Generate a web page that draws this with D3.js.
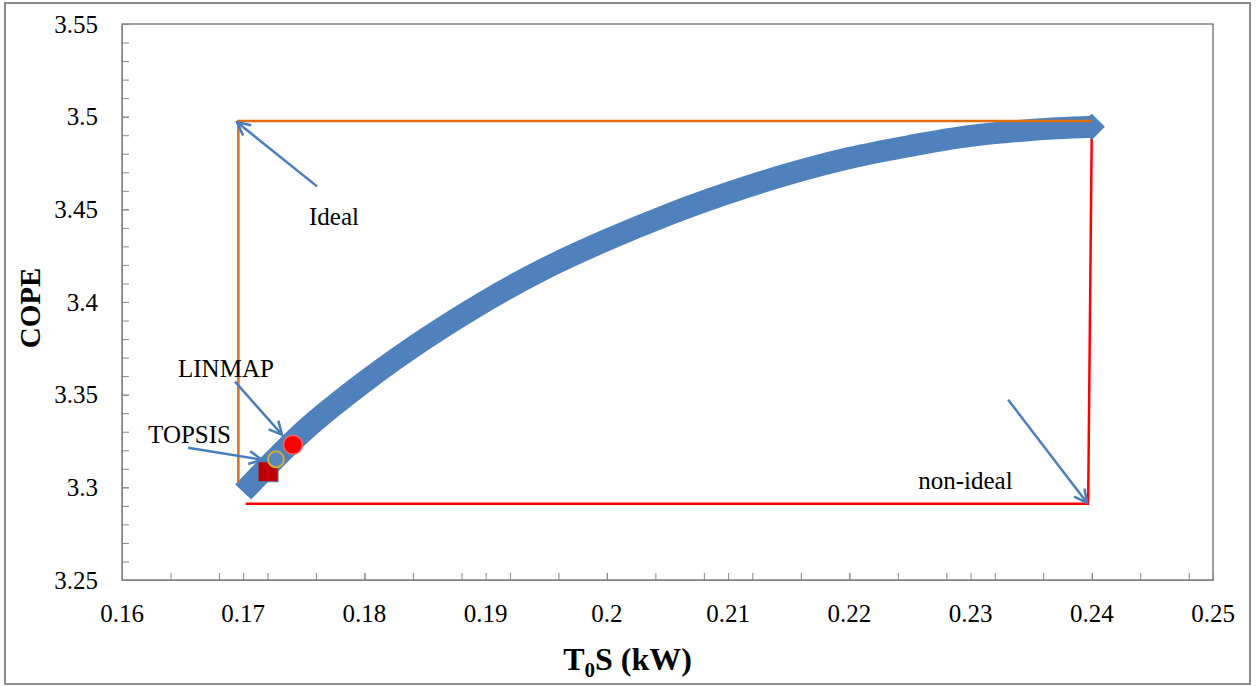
<!DOCTYPE html>
<html>
<head>
<meta charset="utf-8">
<script src="https://cdn.jsdelivr.net/npm/d3@7"></script>
<style>
  body { margin: 0; background: #fff; }
</style>
</head>
<body>
<div id="chart"></div>
<script>
const SERIF = "'Liberation Serif', 'Times New Roman', serif";

// Pareto front (T0S in kW, COPE)
const frontX = [0.170, 0.175, 0.180, 0.185, 0.190, 0.195, 0.200, 0.205,
  0.210, 0.215, 0.220, 0.225, 0.230, 0.235, 0.240];
const frontY = [3.2975, 3.3304, 3.3569, 3.3801, 3.4006, 3.4184, 3.4335, 3.4470,
  3.4588, 3.4691, 3.4777, 3.4842, 3.4896, 3.4928, 3.4945];

// ideal / non-ideal frame lines
const idealX = [0.1696, 0.1696, 0.2400];
const idealY = [3.3025, 3.4976, 3.4976];
const nonIdealX = [0.2400, 0.2397, 0.1702];
const nonIdealY = [3.4935, 3.2911, 3.2911];

// decision points
const topsisPt = [0.17205, 3.3084];
const finalPt = [0.1727, 3.3151];
const linmapPt = [0.1741, 3.3230];

// annotations: label, label anchor, arrow start, arrow tip
const notes = [
  { label: "Ideal", at: [0.17543, 3.4414], from: [0.17609, 3.4624], to: [0.16949, 3.4970] },
  { label: "non-ideal", at: [0.22568, 3.2992], from: [0.23310, 3.3473], to: [0.23962, 3.2916] },
  { label: "LINMAP", at: [0.16462, 3.3597], from: [0.16932, 3.3570], to: [0.17320, 3.3284] },
  { label: "TOPSIS", at: [0.16215, 3.3241], from: [0.16545, 3.3214], to: [0.17155, 3.3149] }
];

const xTicks = [0.16, 0.17, 0.18, 0.19, 0.2, 0.21, 0.22, 0.23, 0.24, 0.25];
const yTicks = [3.25, 3.3, 3.35, 3.4, 3.45, 3.5, 3.55];

const W = 1256, H = 686;
const plot = { left: 122, right: 1213, top: 24, bottom: 580 };

const svg = d3.select("#chart").append("svg")
  .attr("width", W)
  .attr("height", H);

svg.append("rect").attr("width", W).attr("height", H).attr("fill", "#fff");

// outer chart frame
svg.append("rect")
  .attr("x", 5).attr("y", 3)
  .attr("width", 1245).attr("height", 681)
  .attr("fill", "none")
  .attr("stroke", "#8c8c8c")
  .attr("stroke-width", 2);

const x = d3.scaleLinear().domain([0.16, 0.25]).range([plot.left, plot.right]);
const y = d3.scaleLinear().domain([3.25, 3.55]).range([plot.bottom, plot.top]);

// plot area border
svg.append("rect")
  .attr("x", plot.left).attr("y", plot.top)
  .attr("width", plot.right - plot.left)
  .attr("height", plot.bottom - plot.top)
  .attr("fill", "none")
  .attr("stroke", "#404040")
  .attr("stroke-width", 1);

// minor ticks (inside)
const xMinor = d3.range(0.16, 0.2499, 0.004);
const yMinor = d3.range(3.25, 3.5499, 0.01);

const xAxis = svg.append("g")
  .attr("transform", `translate(0,${plot.bottom})`);
xAxis.call(d3.axisTop(x).tickValues(xMinor.concat(xTicks)).tickSize(7).tickFormat(""));
xAxis.selectAll("line,path").attr("stroke", "#868686");

xAxis.selectAll(".lbl")
  .data(xTicks)
  .enter().append("text")
  .attr("class", "lbl")
  .attr("x", d => x(d))
  .attr("y", 42)
  .attr("text-anchor", "middle")
  .attr("fill", "#000")
  .style("font-family", SERIF)
  .style("font-size", "25px")
  .text(d => String(+d.toFixed(2)));

const yAxis = svg.append("g")
  .attr("transform", `translate(${plot.left},0)`);
yAxis.call(d3.axisRight(y).tickValues(yMinor.concat(yTicks)).tickSize(7).tickFormat(""));
yAxis.selectAll("line,path").attr("stroke", "#868686");

yAxis.selectAll(".lbl")
  .data(yTicks)
  .enter().append("text")
  .attr("class", "lbl")
  .attr("x", -24)
  .attr("y", d => y(d))
  .attr("dy", "0.35em")
  .attr("text-anchor", "end")
  .attr("fill", "#000")
  .style("font-family", SERIF)
  .style("font-size", "25px")
  .text(d => String(+d.toFixed(2)));

// axis titles
svg.append("text")
  .attr("transform", `translate(40,${(plot.top + plot.bottom) / 2 + 6}) rotate(-90)`)
  .attr("text-anchor", "middle")
  .style("font-family", SERIF)
  .style("font-size", "29px")
  .style("font-weight", "bold")
  .text("COPE");

const xt = svg.append("text")
  .attr("x", (plot.left + plot.right) / 2 - 40)
  .attr("y", 670)
  .attr("text-anchor", "middle")
  .style("font-family", SERIF)
  .style("font-size", "32px")
  .style("font-weight", "bold");
xt.append("tspan").text("T");
xt.append("tspan").attr("dy", 7).style("font-size", "21px").text("0");
xt.append("tspan").attr("dy", -7).text("S (kW)");

const line = d3.line().x(d => x(d[0])).y(d => y(d[1]));

// non-ideal (red)
svg.append("path")
  .datum(d3.zip(nonIdealX, nonIdealY))
  .attr("d", line)
  .attr("fill", "none")
  .attr("stroke", "#ff0000")
  .attr("stroke-width", 2.5);

// pareto front band
const front = d3.zip(frontX, frontY);
svg.append("path")
  .datum(front)
  .attr("d", d3.line().curve(d3.curveMonotoneX).x(d => x(d[0])).y(d => y(d[1])))
  .attr("fill", "none")
  .attr("stroke", "#4F81BD")
  .attr("stroke-width", 22)
  .attr("stroke-linejoin", "round");

// diamond marker at the top end
const last = front[front.length - 1];
svg.append("path")
  .attr("d", d3.symbol(d3.symbolDiamond2, 440)())
  .attr("transform", `translate(${x(last[0])},${y(last[1])})`)
  .attr("fill", "#4F81BD");

// ideal (orange)
svg.append("path")
  .datum(d3.zip(idealX, idealY))
  .attr("d", line)
  .attr("fill", "none")
  .attr("stroke", "#E46C0A")
  .attr("stroke-width", 2.5);

// TOPSIS square
svg.append("rect")
  .attr("x", x(topsisPt[0]) - 10)
  .attr("y", y(topsisPt[1]) - 10)
  .attr("width", 20).attr("height", 20)
  .attr("fill", "#C00000")
  .attr("stroke", "#4F81BD")
  .attr("stroke-width", 1);

svg.append("circle")
  .attr("cx", x(finalPt[0])).attr("cy", y(finalPt[1]))
  .attr("r", 8)
  .attr("fill", "#5B87C0")
  .attr("stroke", "#C9AE3C")
  .attr("stroke-width", 2);

svg.append("circle")
  .attr("cx", x(linmapPt[0])).attr("cy", y(linmapPt[1]))
  .attr("r", 9.5)
  .attr("fill", "#ff0000")
  .attr("stroke", "#f06a6a")
  .attr("stroke-width", 1.5);

// arrows
svg.append("defs").append("marker")
  .attr("id", "head")
  .attr("viewBox", "0 0 16 16")
  .attr("refX", 14).attr("refY", 8)
  .attr("markerWidth", 16).attr("markerHeight", 16)
  .attr("markerUnits", "userSpaceOnUse")
  .attr("orient", "auto")
  .append("path")
  .attr("d", "M1,1.5 L14,8 L1,14.5")
  .attr("fill", "none")
  .attr("stroke", "#4A7EBB")
  .attr("stroke-width", 2.5);

svg.selectAll(".arrow")
  .data(notes)
  .enter().append("line")
  .attr("class", "arrow")
  .attr("x1", d => x(d.from[0])).attr("y1", d => y(d.from[1]))
  .attr("x2", d => x(d.to[0])).attr("y2", d => y(d.to[1]))
  .attr("stroke", "#4A7EBB")
  .attr("stroke-width", 2.5)
  .attr("marker-end", "url(#head)");

svg.selectAll(".note")
  .data(notes)
  .enter().append("text")
  .attr("class", "note")
  .attr("x", d => x(d.at[0]))
  .attr("y", d => y(d.at[1]))
  .style("font-family", SERIF)
  .style("font-size", "25px")
  .text(d => d.label);
</script>
</body>
</html>
